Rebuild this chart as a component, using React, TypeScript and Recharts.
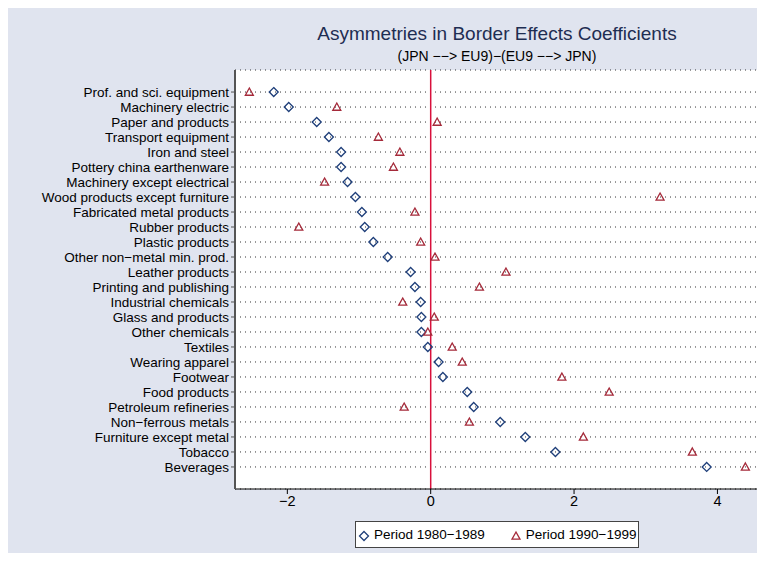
import {
  CartesianGrid,
  ReferenceLine,
  Scatter,
  ScatterChart,
  XAxis,
  YAxis,
} from "recharts";

const industries = [
  "Prof. and sci. equipment",
  "Machinery electric",
  "Paper and products",
  "Transport equipment",
  "Iron and steel",
  "Pottery china earthenware",
  "Machinery except electrical",
  "Wood products except furniture",
  "Fabricated metal products",
  "Rubber products",
  "Plastic products",
  "Other non−metal min. prod.",
  "Leather products",
  "Printing and publishing",
  "Industrial chemicals",
  "Glass and products",
  "Other chemicals",
  "Textiles",
  "Wearing apparel",
  "Footwear",
  "Food products",
  "Petroleum refineries",
  "Non−ferrous metals",
  "Furniture except metal",
  "Tobacco",
  "Beverages",
];

const period1980s = [
  -2.19, -1.98, -1.59, -1.42, -1.25, -1.25, -1.16, -1.05, -0.96, -0.92, -0.8, -0.6, -0.28,
  -0.22, -0.14, -0.13, -0.13, -0.04, 0.11, 0.17, 0.51, 0.6, 0.97, 1.32, 1.74, 3.85,
];

const period1990s = [
  -2.53, -1.31, 0.09, -0.73, -0.43, -0.52, -1.48, 3.2, -0.22, -1.84, -0.14, 0.06, 1.05,
  0.68, -0.39, 0.05, -0.04, 0.3, 0.44, 1.83, 2.49, -0.37, 0.54, 2.13, 3.65, 4.39,
];

const xTicks = [-2, 0, 2, 4];
const seriesNames = ["Period 1980−1989", "Period 1990−1999"];

const NAVY = "#1f3f7a";
const DARK_RED = "#a52a3a";
const FONT = "'Liberation Sans', Arial, sans-serif";

const data80 = period1980s.map((v, i) => ({ x: v, idx: i }));
const data90 = period1990s.map((v, i) => ({ x: v, idx: i }));

function Diamond({ cx, cy }: { cx?: number; cy?: number }) {
  if (cx == null || cy == null) return null;
  const r = 4.5;
  return (
    <polygon
      points={`${cx},${cy - r} ${cx + r},${cy} ${cx},${cy + r} ${cx - r},${cy}`}
      fill="none"
      stroke={NAVY}
      strokeWidth={1.3}
    />
  );
}

function Triangle({ cx, cy }: { cx?: number; cy?: number }) {
  if (cx == null || cy == null) return null;
  const h = 4;
  return (
    <polygon
      points={`${cx},${cy - h} ${cx + h},${cy + h * 0.8} ${cx - h},${cy + h * 0.8}`}
      fill="none"
      stroke={DARK_RED}
      strokeWidth={1.3}
    />
  );
}

function LegendBox() {
  return (
    <div
      style={{
        position: "absolute",
        left: 347,
        top: 513,
        width: 282,
        height: 25,
        background: "#fff",
        border: "1px solid #444",
        display: "flex",
        alignItems: "center",
        fontFamily: FONT,
        fontSize: 13.5,
        color: "#000",
      }}
    >
      <svg width={14} height={14} style={{ marginLeft: 2 }}>
        <Diamond cx={6} cy={8} />
      </svg>
      <span style={{ marginLeft: 2 }}>{seriesNames[0]}</span>
      <svg width={14} height={14} style={{ marginLeft: 24 }}>
        <Triangle cx={7} cy={8} />
      </svg>
      <span style={{ marginLeft: 3 }}>{seriesNames[1]}</span>
    </div>
  );
}

export default function App() {
  return (
    <div
      style={{
        position: "relative",
        width: 751,
        height: 545,
        background: "#e0e4ef",
        fontFamily: FONT,
      }}
    >
      <ScatterChart
        width={751}
        height={545}
        margin={{ top: 62, right: 0, bottom: 34, left: 0 }}
        style={{ position: "absolute", left: 0, top: 0 }}
      >
        <CartesianGrid
          vertical={false}
          stroke="#333"
          strokeDasharray="1 4"
          fill="#ffffff"
          fillOpacity={1}
        />
        <XAxis
          type="number"
          dataKey="x"
          domain={[-2.73, 4.58]}
          ticks={xTicks}
          allowDataOverflow
          height={30}
          tickFormatter={(v: number) => (v < 0 ? `−${Math.abs(v)}` : `${v}`)}
          tick={{ fill: "#000", fontSize: 14.5, fontFamily: FONT }}
          tickSize={5}
          axisLine={{ stroke: "#000", strokeWidth: 1 }}
          tickLine={{ stroke: "#000" }}
        />
        <YAxis
          type="number"
          dataKey="idx"
          domain={[-1.47, 26.47]}
          reversed
          ticks={industries.map((_, i) => i)}
          interval={0}
          width={227}
          tickFormatter={(v: number) => industries[v] ?? ""}
          tick={{ fill: "#000", fontSize: 13.5, fontFamily: FONT }}
          tickSize={4}
          axisLine={{ stroke: "#555", strokeWidth: 2 }}
          tickLine={{ stroke: "#555" }}
        />
        <ReferenceLine x={0} stroke="#d8103c" strokeWidth={1.5} />
        <Scatter
          name={seriesNames[0]}
          data={data80}
          shape={Diamond}
          isAnimationActive={false}
        />
        <Scatter
          name={seriesNames[1]}
          data={data90}
          shape={Triangle}
          isAnimationActive={false}
        />
      </ScatterChart>
      <div
        style={{
          position: "absolute",
          left: 227,
          width: 524,
          top: 15,
          textAlign: "center",
          fontSize: 19,
          lineHeight: "22px",
          color: "#1e2d52",
        }}
      >
        Asymmetries in Border Effects Coefficients
      </div>
      <div
        style={{
          position: "absolute",
          left: 227,
          width: 524,
          top: 40,
          textAlign: "center",
          fontSize: 14,
          lineHeight: "16px",
          color: "#000",
        }}
      >
        (JPN −−&gt; EU9)−(EU9 −−&gt; JPN)
      </div>
      <LegendBox />
    </div>
  );
}
